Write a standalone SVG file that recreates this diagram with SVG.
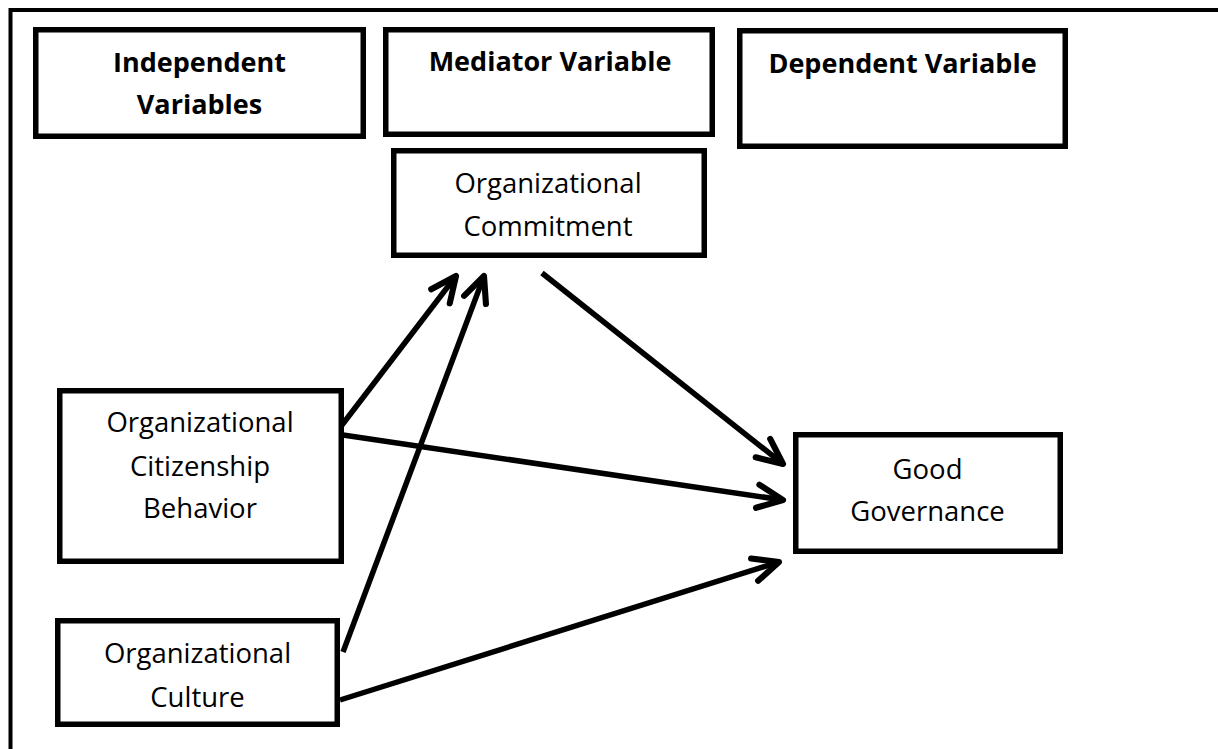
<svg xmlns="http://www.w3.org/2000/svg" width="1218" height="749" viewBox="0 0 1218 749">
  <defs>
    <style>
      .box { fill: #ffffff; stroke: #000000; stroke-width: 5.5; }
      .hdr { font-family: "Open Sans", "Liberation Sans", sans-serif; font-weight: bold; font-size: 27px; fill: #000000; text-anchor: middle; }
      .lbl { font-family: "Open Sans", "Liberation Sans", sans-serif; font-size: 27.5px; fill: #000000; text-anchor: middle; }
      .conn { stroke: #000000; stroke-width: 5.5; fill: none; marker-end: url(#arr); }
    </style>
    <marker id="arr" markerUnits="userSpaceOnUse" markerWidth="40" markerHeight="40" viewBox="-30 -15 36 30" refX="0" refY="0" orient="auto" overflow="visible">
      <path d="M-23,-10.5 L0,0 L-23,10.5" fill="none" stroke="#000000" stroke-width="5.5" stroke-linecap="round" stroke-linejoin="round"/>
    </marker>
  </defs>
  <rect width="1218" height="749" fill="#ffffff"/>
  <path id="frame" d="M10.5,749 V10 H1218" fill="none" stroke="#000000" stroke-width="4"/>

  <g id="independent-header">
    <rect class="box" x="35.75" y="29.75" width="327.5" height="106.5"/>
    <text class="hdr" x="199.5" y="72">Independent</text>
    <text class="hdr" x="199.5" y="114">Variables</text>
  </g>
  <g id="mediator-header">
    <rect class="box" x="385.75" y="29.75" width="326.5" height="104.5"/>
    <text class="hdr" x="550" y="71">Mediator Variable</text>
  </g>
  <g id="dependent-header">
    <rect class="box" x="739.75" y="30.75" width="325.5" height="115.5"/>
    <text class="hdr" x="902.5" y="73">Dependent Variable</text>
  </g>
  <g id="commitment">
    <rect class="box" x="393.75" y="150.75" width="310.5" height="104.5"/>
    <text class="lbl" x="548" y="193">Organizational</text>
    <text class="lbl" x="548" y="236">Commitment</text>
  </g>
  <g id="ocb">
    <rect class="box" x="59.75" y="390.75" width="281.5" height="170.5"/>
    <text class="lbl" x="200" y="432">Organizational</text>
    <text class="lbl" x="200" y="476">Citizenship</text>
    <text class="lbl" x="200" y="518">Behavior</text>
  </g>
  <g id="culture">
    <rect class="box" x="57.75" y="620.75" width="279.5" height="103.5"/>
    <text class="lbl" x="197.5" y="663">Organizational</text>
    <text class="lbl" x="197.5" y="707">Culture</text>
  </g>
  <g id="good-governance">
    <rect class="box" x="795.75" y="434.75" width="264.5" height="116.5"/>
    <text class="lbl" x="927.5" y="479">Good</text>
    <text class="lbl" x="927.5" y="521">Governance</text>
  </g>

  <g id="connectors">
    <line class="conn" x1="342" y1="425" x2="456" y2="276"/>
    <line class="conn" x1="343" y1="652" x2="484" y2="276"/>
    <line class="conn" x1="542" y1="273" x2="783" y2="464"/>
    <line class="conn" x1="343" y1="435" x2="783" y2="500"/>
    <line class="conn" x1="340" y1="700" x2="779" y2="562"/>
  </g>
</svg>
